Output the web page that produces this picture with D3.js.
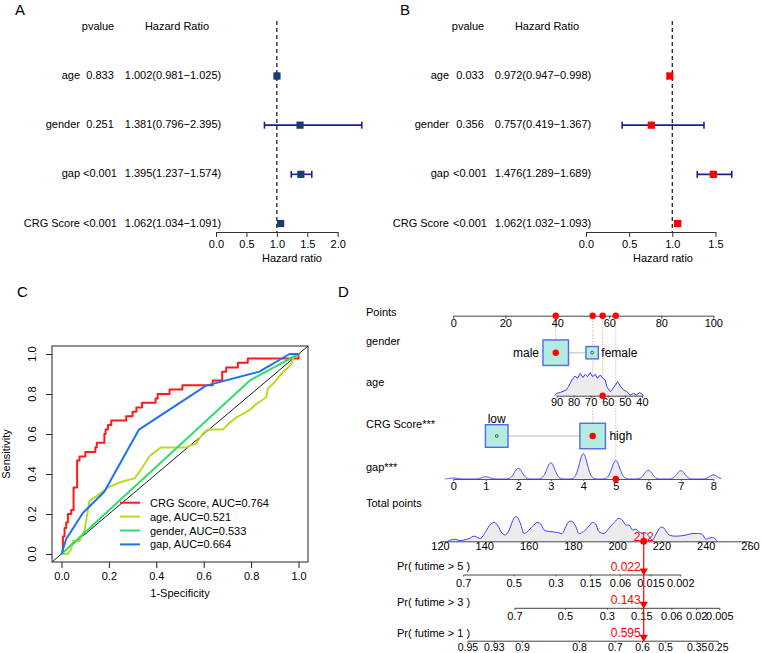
<!DOCTYPE html>
<html><head><meta charset="utf-8">
<script src="https://cdn.jsdelivr.net/npm/d3@7"></script>
<style>body{margin:0;background:#fff;} svg{display:block;}</style>
</head><body>
<svg id="c" width="763" height="653"></svg>
<script>
// ---------------- DATA ----------------
// Forest plots (A: univariate, B: multivariate)
const forestVars = ["age", "gender", "gap", "CRG Score"];
const uniPvalue = ["0.833", "0.251", "<0.001", "<0.001"];
const uniHR = [1.002, 1.381, 1.395, 1.062];
const uniLow = [0.981, 0.796, 1.237, 1.034];
const uniHigh = [1.025, 2.395, 1.574, 1.091];
const uniTicks = [0, 0.5, 1, 1.5, 2];
const multiPvalue = ["0.033", "0.356", "<0.001", "<0.001"];
const multiHR = [0.972, 0.757, 1.476, 1.062];
const multiLow = [0.947, 0.419, 1.289, 1.032];
const multiHigh = [0.998, 1.367, 1.689, 1.093];
const multiTicks = [0, 0.5, 1, 1.5];

// ROC curves (C)
const rocNames = ["CRG Score", "age", "gender", "gap"];
const rocAUC = ["0.764", "0.521", "0.533", "0.664"];
const rocTicks = [0, 0.2, 0.4, 0.6, 0.8, 1.0];
const crgFpr = [0,0.006,0.013,0.02,0.027,0.041,0.051,0.066,0.076,0.101,0.143,0.149,0.181,0.186,0.196,0.21,0.273,0.30,0.316,0.34,0.397,0.406,0.456,0.51,0.638,0.678,0.695,0.744,0.786,1.0];
const crgTpr = [0,0.087,0.13,0.157,0.2,0.22,0.333,0.467,0.487,0.51,0.534,0.556,0.6,0.622,0.645,0.667,0.689,0.711,0.733,0.756,0.778,0.8,0.822,0.844,0.867,0.911,0.933,0.956,0.978,1.0];
const ageFpr = [0,0.025,0.041,0.048,0.076,0.097,0.118,0.147,0.2,0.25,0.309,0.34,0.372,0.42,0.526,0.568,0.596,0.617,0.681,0.709,0.737,0.793,0.821,0.842,0.864,0.871,0.9,0.928,0.956,0.97,0.98,0.99,1];
const ageTpr = [0,0,0.023,0.065,0.065,0.116,0.266,0.288,0.335,0.36,0.378,0.43,0.49,0.533,0.533,0.553,0.601,0.622,0.622,0.657,0.682,0.719,0.749,0.765,0.785,0.828,0.86,0.902,0.932,0.953,0.985,1.0,1];
const genderFpr = [0, 0.795, 1];
const genderTpr = [0, 0.868, 1];
const gapFpr = [0, 0.02, 0.09, 0.18, 0.327, 0.61, 0.835, 0.962, 1];
const gapTpr = [0, 0.075, 0.205, 0.31, 0.622, 0.842, 0.912, 1, 1];

// Nomogram (D)
const pointsTicks = [0, 20, 40, 60, 80, 100];
const genderLevels = ["male", "female"];
const genderPoints = [39.4, 53.4];
const genderFreq = [0.81, 0.19];
const ageTicks = [90, 80, 70, 60, 50, 40];
const ageEnds = [90, 40];
const agePointsEnds = [39.7, 72.55];
const ageGrid = [91.2,89.8,87.8,84.3,83.0,81.0,79.1,77.7,76.1,74.5,73.2,71.9,70.3,68.9,67.3,66.0,64.4,62.8,61.5,60.5,58.6,57.6,55.5,54.3,52.7,50.8,48.8,46.9,44.9,43.3,41.4,40.0,39.1];
const ageDensity = [0,.004,.0057,.0099,.0157,.0273,.0343,.0301,.0388,.0318,.0371,.0331,.04,.0331,.0371,.0301,.036,.0301,.0273,.0157,.007,.0099,.0186,.0244,.0169,.0099,.007,.0012,.004,.0012,.0052,.003,0];
const crgLevels = ["low", "high"];
const crgPoints = [16.7, 53.6];
const crgFreq = [0.44, 0.56];
const gapTicks = [0, 1, 2, 3, 4, 5, 6, 7, 8];
const gapShare = [0.011, 0.024, 0.112, 0.171, 0.266, 0.192, 0.091, 0.087, 0.042];
const gapPointsEnds = [0, 100];
const totalTicks = [120, 140, 160, 180, 200, 220, 240, 260];
const totalGrid = [123.3,124.8,127.1,128.6,130.8,133.1,135.4,136.8,138.4,140.6,142.9,144.7,146.2,148.1,149.7,151.2,153.4,154.6,156.4,157.9,159.4,161.7,163.9,165.5,167.0,170.0,173.0,175.2,176.8,178.3,179.8,181.3,182.8,184.3,186.5,188.8,190.3,191.8,194.1,196.3,198.6,200.8,202.3,203.9,205.4,206.9,208.4,209.9,211.4,212.9,214.4,215.9,217.4,219.7,221.2,222.7,224.2,227.2,230.2,233.2,236.2,238.5,240.0,241.5,243.0,244.5,245.2];
const totalDensity = [0,.05,.08,.03,.05,.11,.21,.16,.12,.39,.70,.76,.62,.32,.26,.46,.93,1.0,.70,.32,.39,.60,.76,.70,.46,.39,.36,.32,.60,.80,.80,.60,.32,.36,.53,.76,.70,.39,.32,.53,.76,.93,.86,.66,.66,.46,.49,.39,.32,.35,.19,.05,.26,.57,.53,.32,.23,.21,.24,.30,.32,.27,.09,.12,.16,.08,0];
const patientGender = "male";
const patientAge = 63;
const patientCRG = "high";
const patientGap = 5;
const totalScore = 212;
const probLabels = ["Pr( futime > 5 )", "Pr( futime > 3 )", "Pr( futime > 1 )"];
const probPredicted = [0.022, 0.143, 0.595];
const probTicks5 = [0.7, 0.5, 0.3, 0.15, 0.06, 0.015, 0.002];
const probTicks3 = [0.7, 0.5, 0.3, 0.15, 0.06, 0.02, 0.005];
const probTicks1 = [0.95, 0.93, 0.9, 0.8, 0.7, 0.6, 0.5, 0.35, 0.25];
const pointsPerCloglog = 34.3;

// ---------------- DRAWING ----------------
const FONT = '"Liberation Sans", Arial, Helvetica, sans-serif';
const svg = d3.select("#c");
svg.append("rect").attr("width", 763).attr("height", 653).attr("fill", "#fff");

function text(x, y, s, o = {}) {
  return svg.append("text").attr("x", x).attr("y", y).text(s)
    .attr("font-family", FONT).attr("font-size", o.size || 11)
    .attr("fill", o.fill || "#000")
    .attr("text-anchor", o.anchor || "start")
    .attr("dominant-baseline", "central");
}
function styleAxis(g, col) {
  g.attr("font-family", FONT).attr("font-size", 11);
  g.selectAll("path,line").attr("stroke", col || "#333");
  g.selectAll("text").attr("fill", "#000");
}

// Panel labels
text(15, 9, "A", {size: 15});
text(400, 9, "B", {size: 15});
text(17, 291, "C", {size: 15});
text(338, 291, "D", {size: 15});

// ---------- Forest plots ----------
const rowY = d3.scalePoint().domain(forestVars).range([76, 223.5]);
function forest(cfg) {
  const x = d3.scaleLinear().domain([0, cfg.ticks[cfg.ticks.length - 1]]).range(cfg.range);
  text(cfg.pCenter - 2, 26, "pvalue", {anchor: "middle"});
  text(cfg.hrCenter + 4, 26, "Hazard Ratio", {anchor: "middle"});
  forestVars.forEach((v, i) => {
    const y = rowY(v);
    text(cfg.labelRight, y - 1, v, {anchor: "end"});
    text(cfg.pCenter, y - 1, cfg.p[i], {anchor: "middle"});
    const s = cfg.hr[i].toFixed(3) + "(" + cfg.lo[i].toFixed(3) + "\u2212" + cfg.hi[i].toFixed(3) + ")";
    text(cfg.hrCenter, y - 1, s, {anchor: "middle"});
  });
  svg.append("line").attr("x1", x(1)).attr("x2", x(1)).attr("y1", 21).attr("y2", 232)
    .attr("stroke", "#222").attr("stroke-width", 1.3).attr("stroke-dasharray", "4,3");
  forestVars.forEach((v, i) => {
    const y = rowY(v);
    const g = svg.append("g");
    g.append("line").attr("x1", x(cfg.lo[i])).attr("x2", x(cfg.hi[i])).attr("y1", y).attr("y2", y)
      .attr("stroke", "#1d1d9a").attr("stroke-width", 1.6);
    [cfg.lo[i], cfg.hi[i]].forEach(e => g.append("line").attr("x1", x(e)).attr("x2", x(e))
      .attr("y1", y - 3.5).attr("y2", y + 3.5).attr("stroke", "#1d1d9a").attr("stroke-width", 1.6));
    g.append("rect").attr("x", x(cfg.hr[i]) - 3.6).attr("y", y - 3.6).attr("width", 7.2).attr("height", 7.2)
      .attr("fill", cfg.sq);
  });
  const ax = svg.append("g").attr("transform", "translate(0,232)")
    .call(d3.axisBottom(x).tickValues(cfg.ticks).tickFormat(d3.format(".1f")).tickSize(5).tickSizeOuter(0));
  styleAxis(ax, "#333");
  text(cfg.axisLabelX, 258, "Hazard ratio", {anchor: "middle"});
}
forest({p: uniPvalue, hr: uniHR, lo: uniLow, hi: uniHigh, ticks: uniTicks, range: [216, 337.7],
  labelRight: 80, pCenter: 100, hrCenter: 173, axisLabelX: 292, sq: "#163f70"});
forest({p: multiPvalue, hr: multiHR, lo: multiLow, hi: multiHigh, ticks: multiTicks, range: [586, 715.45],
  labelRight: 449, pCenter: 470, hrCenter: 543, axisLabelX: 663, sq: "#ff0000"});

// ---------- ROC ----------
const xC = d3.scaleLinear().domain([-0.04, 1.04]).range([52, 308]);
const yC = d3.scaleLinear().domain([-0.04, 1.04]).range([562, 346]);
const rocColors = ["#ff1a1a", "#b8dc22", "#2fdc6e", "#1c72ee"];
svg.append("line").attr("x1", xC(-0.04)).attr("y1", yC(-0.04)).attr("x2", xC(1.04)).attr("y2", yC(1.04))
  .attr("stroke", "#000").attr("stroke-width", 0.9);
const rocSeries = [
  {f: crgFpr, t: crgTpr, curve: d3.curveStepAfter},
  {f: ageFpr, t: ageTpr, curve: d3.curveLinear},
  {f: genderFpr, t: genderTpr, curve: d3.curveLinear},
  {f: gapFpr, t: gapTpr, curve: d3.curveLinear}
];
rocSeries.forEach((s, k) => {
  const pts = s.f.map((v, i) => [v, s.t[i]]);
  svg.append("path").attr("d", d3.line().x(d => xC(d[0])).y(d => yC(d[1])).curve(s.curve)(pts))
    .attr("fill", "none").attr("stroke", rocColors[k]).attr("stroke-width", 2).attr("stroke-linejoin", "round");
});
svg.append("rect").attr("x", 52).attr("y", 346).attr("width", 256).attr("height", 216)
  .attr("fill", "none").attr("stroke", "#222").attr("stroke-width", 1);
const axC = svg.append("g").attr("transform", "translate(0,562)")
  .call(d3.axisBottom(xC).tickValues(rocTicks).tickFormat(d3.format(".1f")).tickSize(6).tickPadding(4));
axC.select(".domain").remove();
styleAxis(axC, "#222");
const ayC = svg.append("g").attr("transform", "translate(52,0)")
  .call(d3.axisLeft(yC).tickValues(rocTicks).tickFormat("").tickSize(6));
ayC.select(".domain").remove();
styleAxis(ayC, "#222");
rocTicks.forEach(v => {
  svg.append("text").attr("transform", `translate(32,${yC(v)}) rotate(-90)`).text(d3.format(".1f")(v))
    .attr("font-family", FONT).attr("font-size", 11).attr("text-anchor", "middle").attr("dominant-baseline", "central");
});
text(180, 593, "1-Specificity", {anchor: "middle"});
svg.append("text").attr("transform", "translate(6,454) rotate(-90)").text("Sensitivity")
  .attr("font-family", FONT).attr("font-size", 11).attr("text-anchor", "middle").attr("dominant-baseline", "central");
rocNames.forEach((n, i) => {
  const y = 502.7 + i * 13.9;
  svg.append("line").attr("x1", 120).attr("x2", 140).attr("y1", y).attr("y2", y)
    .attr("stroke", rocColors[i]).attr("stroke-width", 2);
  text(150, y, n + ", AUC=" + rocAUC[i]);
});

// ---------- Nomogram ----------
const LX = 366;
const xP = d3.scaleLinear().domain([0, 100]).range([453.3, 713.3]);
const xT = d3.scaleLinear().domain([120, 260]).range([440, 750]);
const xAge = d3.scaleLinear().domain(ageEnds).range(agePointsEnds.map(xP));
const xGap = d3.scaleLinear().domain([gapTicks[0], gapTicks[gapTicks.length - 1]]).range(gapPointsEnds.map(xP));
const ageToPts = d3.scaleLinear().domain(ageEnds).range(agePointsEnds);
const gapToPts = d3.scaleLinear().domain([0, 8]).range(gapPointsEnds);
const RED = "#ff0000";
const BOXF = "#b4ebe1", BOXS = "#5068f2", DENS = "#3b3bff", DFILL = "#ececec";

const yPoints = 315.7, yGender = 352.7, yAge = 395.7, yCRG = 436, yGap = 479, yTotal = 541.3;
const yProb = [575, 608.3, 641.2];
const yProbLabel = [566, 601.5, 632.5];
const yProbTickOff = [7.8, 7.8, 5.8];
const yProbTickSize = [11, 11, 10.5];

text(LX, 312.3, "Points");
text(LX, 340.7, "gender");
text(LX, 382.3, "age");
text(LX, 424, "CRG Score***");
text(LX, 466.7, "gap***");
text(LX, 503.3, "Total points");

// selected points
const selGenderPts = genderPoints[genderLevels.indexOf(patientGender)];
const selCRGPts = crgPoints[crgLevels.indexOf(patientCRG)];
const selAgePts = ageToPts(patientAge);
const selGapPts = gapToPts(patientGap);

// dotted guides
[[selGenderPts, yGender], [selCRGPts, yCRG], [selAgePts, yAge], [selGapPts, yGap]].forEach(([p, y]) => {
  svg.append("line").attr("x1", xP(p)).attr("x2", xP(p)).attr("y1", yPoints).attr("y2", y)
    .attr("stroke", "#ff8f8f").attr("stroke-width", 0.9).attr("stroke-dasharray", "1.2,1.6");
});

// Points axis
const axP = svg.append("g").attr("transform", `translate(0,${yPoints})`)
  .call(d3.axisBottom(xP).tickValues(pointsTicks).tickSize(3).tickPadding(1).tickSizeOuter(0));
styleAxis(axP, "#444");

// categorical rows
function catRow(levels, pts, freq, y, sel, labelMode) {
  const maxF = d3.max(freq);
  const side = d3.scaleSqrt().domain([0, maxF]).range([0, 25.5]);
  const xs = pts.map(xP);
  const s = freq.map(side);
  svg.append("line").attr("x1", xs[0] + s[0] / 2).attr("x2", xs[1] - s[1] / 2).attr("y1", y).attr("y2", y)
    .attr("stroke", "#cfcfcf").attr("stroke-width", 1.5);
  levels.forEach((l, i) => {
    svg.append("rect").attr("x", xs[i] - s[i] / 2).attr("y", y - s[i] / 2).attr("width", s[i]).attr("height", s[i])
      .attr("fill", BOXF).attr("stroke", BOXS).attr("stroke-width", 1.4);
    if (l === sel) {
      svg.append("circle").attr("cx", xs[i]).attr("cy", y).attr("r", 3.2).attr("fill", RED);
    } else {
      svg.append("circle").attr("cx", xs[i]).attr("cy", y).attr("r", 1.4).attr("fill", "none")
        .attr("stroke", "#333").attr("stroke-width", 0.8);
    }
  });
  if (labelMode === "gender") {
    text(xs[0] - s[0] / 2 - 4, y, levels[0], {anchor: "end", size: 12});
    text(xs[1] + s[1] / 2 + 3, y, levels[1], {size: 12});
  } else {
    text(xs[0], y - s[0] / 2 - 5.5, levels[0], {anchor: "middle", size: 12});
    text(xs[1] + s[1] / 2 + 4, y, levels[1], {size: 12});
  }
}
catRow(genderLevels, genderPoints, genderFreq, yGender, patientGender, "gender");
catRow(crgLevels, crgPoints, crgFreq, yCRG, patientCRG, "crg");

// age density + axis
const yAgeD = d3.scaleLinear().domain([0, 0.04]).range([0, 23]);
svg.append("path").datum(ageGrid.map((a, i) => [a, ageDensity[i]]))
  .attr("d", d3.area().x(d => xAge(d[0])).y0(yAge).y1(d => yAge - yAgeD(d[1])))
  .attr("fill", DFILL);
svg.append("path").datum(ageGrid.map((a, i) => [a, ageDensity[i]]))
  .attr("d", d3.line().x(d => xAge(d[0])).y(d => yAge - yAgeD(d[1])))
  .attr("fill", "none").attr("stroke", DENS).attr("stroke-width", 1);
const axA = svg.append("g").attr("transform", `translate(0,${yAge})`)
  .call(d3.axisBottom(xAge).tickValues(ageTicks).tickSize(2).tickPadding(0).tickSizeOuter(0));
styleAxis(axA, "#444");
svg.append("circle").attr("cx", xAge(patientAge)).attr("cy", yAge).attr("r", 3.2).attr("fill", RED);

// gap density (kernel bumps around the integer values) + axis
const sigma = 0.12;
const gapCurve = d3.range(-0.25, 8.2501, 0.01).map(g => [g, d3.sum(gapTicks, (k, i) => gapShare[i] * Math.exp(-((g - k) ** 2) / (2 * sigma * sigma)))]);
const yGapD = d3.scaleLinear().domain([0, d3.max(gapShare)]).range([0, 25.3]);
svg.append("path").datum(gapCurve).attr("d", d3.area().x(d => xGap(d[0])).y0(yGap).y1(d => yGap - yGapD(d[1])))
  .attr("fill", DFILL);
const axG = svg.append("g").attr("transform", `translate(0,${yGap})`)
  .call(d3.axisBottom(xGap).tickValues(gapTicks).tickSize(2).tickPadding(1).tickSizeOuter(0));
styleAxis(axG, "#555");
svg.append("path").datum(gapCurve).attr("d", d3.line().x(d => xGap(d[0])).y(d => yGap - yGapD(d[1])))
  .attr("fill", "none").attr("stroke", DENS).attr("stroke-width", 1);
svg.append("circle").attr("cx", xGap(patientGap)).attr("cy", yGap).attr("r", 3.2).attr("fill", RED);

// red dots on Points axis
[selGenderPts, selCRGPts, selAgePts, selGapPts].forEach(p => {
  svg.append("circle").attr("cx", xP(p)).attr("cy", yPoints).attr("r", 3.2).attr("fill", RED);
});

// total points density + axis
const yTotD = d3.scaleLinear().domain([0, 1]).range([0, 24.7]);
const totPts = totalGrid.map((t, i) => [t, totalDensity[i]]);
svg.append("path").datum(totPts).attr("d", d3.area().x(d => xT(d[0])).y0(yTotal).y1(d => yTotal - yTotD(d[1])).curve(d3.curveCatmullRom))
  .attr("fill", DFILL);
svg.append("path").datum(totPts).attr("d", d3.line().x(d => xT(d[0])).y(d => yTotal - yTotD(d[1])).curve(d3.curveCatmullRom))
  .attr("fill", "none").attr("stroke", DENS).attr("stroke-width", 1);
const axT = svg.append("g").attr("transform", `translate(0,${yTotal})`)
  .call(d3.axisBottom(xT).tickValues(totalTicks).tickSize(0).tickPadding(0.5).tickSizeOuter(0));
styleAxis(axT, "#444");

// probability axes
const cloglog = p => Math.log(-Math.log(p));
const probTickSets = [probTicks5, probTicks3, probTicks1];
probTickSets.forEach((ticks, k) => {
  const toX = p => xT(totalScore + pointsPerCloglog * (cloglog(p) - cloglog(probPredicted[k])));
  const y = yProb[k];
  text(397, yProbLabel[k], probLabels[k]);
  svg.append("line").attr("x1", toX(ticks[0])).attr("x2", toX(ticks[ticks.length - 1])).attr("y1", y).attr("y2", y)
    .attr("stroke", "#444").attr("stroke-width", 1);
  ticks.forEach(p => {
    svg.append("line").attr("x1", toX(p)).attr("x2", toX(p)).attr("y1", y).attr("y2", y + 1.5).attr("stroke", "#444");
    text(toX(p), y + yProbTickOff[k], String(p), {anchor: "middle", size: yProbTickSize[k]});
  });
});

// red prediction line
const xs = xT(totalScore);
svg.append("line").attr("x1", xs).attr("x2", xs).attr("y1", yTotal).attr("y2", yProb[2])
  .attr("stroke", RED).attr("stroke-width", 1.2);
svg.append("circle").attr("cx", xs).attr("cy", yTotal).attr("r", 3.5).attr("fill", RED);
text(xs, 536.5, String(totalScore), {anchor: "middle", fill: RED, size: 12});
yProb.forEach((y, k) => {
  svg.append("path").attr("d", `M${xs - 4.2},${y - 6.5} L${xs + 4.2},${y - 6.5} L${xs},${y + 0.5} Z`).attr("fill", RED);
  text(xs - 3, y - 8, String(probPredicted[k]), {anchor: "end", fill: RED, size: 12});
});
</script>
</body></html>
